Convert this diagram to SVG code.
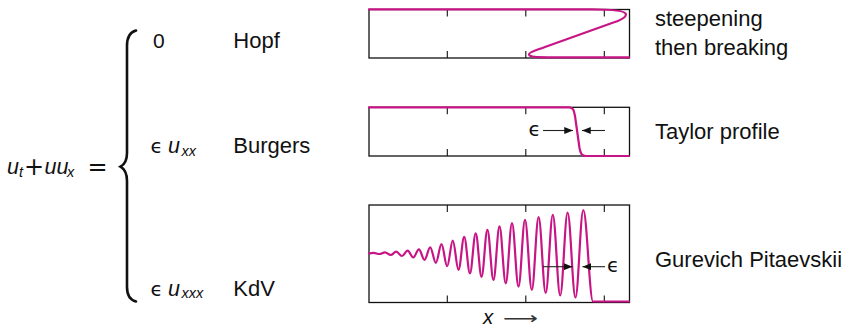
<svg xmlns="http://www.w3.org/2000/svg" width="852" height="329" viewBox="0 0 852 329">
<defs>
<style>
.txt{font-family:"Liberation Sans","DejaVu Sans",sans-serif;font-size:22px;fill:#111}
.mi{font-family:"Liberation Sans","DejaVu Sans",sans-serif;font-style:italic;font-size:21.5px;fill:#111}
.sub{font-family:"Liberation Sans","DejaVu Sans",sans-serif;font-style:italic;font-size:14.5px;fill:#111}
.eps{font-family:"DejaVu Sans",sans-serif;font-size:20px;fill:#111}
.op{font-family:"DejaVu Sans",sans-serif;font-size:24px;fill:#111}
.box{fill:none;stroke:#111;stroke-width:1.3}
.tick{fill:none;stroke:#111;stroke-width:1.1}
.curve{fill:none;stroke:#c71585;stroke-width:2.2;stroke-linejoin:round;stroke-linecap:round}
.arr{fill:none;stroke:#222;stroke-width:1.1}
.brace{fill:none;stroke:#111;stroke-width:2.6;stroke-linecap:round}
</style>
<marker id="ah" viewBox="0 0 10 8" refX="10" refY="4" markerWidth="9" markerHeight="7" markerUnits="userSpaceOnUse" orient="auto">
<path d="M0,0 L10,4 L0,8 Z" fill="#111"/>
</marker>
</defs>

<g id="equation">
<text class="mi" x="7" y="174">u</text>
<text class="sub" x="19" y="176.5">t</text>
<text class="op" x="34" y="175" text-anchor="middle">+</text>
<text class="mi" x="44.5" y="174">uu</text>
<text class="sub" x="67" y="176.5">x</text>
<text class="op" x="97.5" y="175" text-anchor="middle">=</text>
</g>

<g id="brace">
<path class="brace" d="M136,30.5 C130,32 127,37 127,46 L127,153 C127,160 124.5,164.5 120.5,166.7 C124.5,169 127,173.5 127,181 L127,287 C127,296 130,300 136,301.5"/>
</g>

<g id="row-hopf">
<text class="txt" x="153" y="48.3" style="font-size:21px">0</text>
<text class="txt" x="233.3" y="48.3">Hopf</text>
</g>

<g id="row-burgers">
<text class="eps" x="150.5" y="153.3">ϵ</text>
<text class="mi" x="168" y="153.3">u</text>
<text class="sub" x="181.5" y="155.5">xx</text>
<text class="txt" x="233.3" y="153.3">Burgers</text>
</g>

<g id="row-kdv">
<text class="eps" x="150.5" y="295.5">ϵ</text>
<text class="mi" x="168" y="295.5">u</text>
<text class="sub" x="181.5" y="297.7">xxx</text>
<text class="txt" x="233.3" y="295.5">KdV</text>
</g>

<g id="plot-hopf">
<rect class="box" x="369" y="9.5" width="260.5" height="48.5"/>
<path class="tick" d="M447.3,9.5 v7 M525.8,9.5 v7 M604.3,9.5 v7 M447.3,58 v-7 M525.8,58 v-7 M604.3,58 v-7"/>
<path class="curve" d="M369,9.3 L592,9.3 C612,9.3 626,10.5 626,14.5 C626,18 620,20.5 612,23 L545,47 C537,50 529,52 529,54.3 C529,56.5 534,57.3 548,57.3 L629,57.3"/>
</g>

<g id="plot-burgers">
<rect class="box" x="369" y="107.3" width="260.5" height="48.7"/>
<path class="tick" d="M447.3,107.3 v7 M525.8,107.3 v7 M604.3,107.3 v7 M447.3,156 v-7 M525.8,156 v-7 M604.3,156 v-7"/>
<path class="curve" d="M369,107.4 L569,107.4 C573,107.4 574,110 575,116 L579.5,148 C580.5,154 582,156 586,156 L629,156"/>
</g>

<g id="plot-kdv">
<rect class="box" x="369" y="205" width="260.5" height="97.5"/>
<path class="tick" d="M447.3,205 v7 M525.8,205 v7 M604.3,205 v7 M447.3,302.5 v-7 M525.8,302.5 v-7 M604.3,302.5 v-7"/>
<path class="curve" d="M369,253.3 C370.7,253.3 372,252.9 373.7,252.9 C375.75,252.9 377.3,254 379.35,254 C381.4,254 382.95,252.3 385,252.3 C387.05,252.3 388.6,255 390.65,255 C392.7,255 394.25,251.7 396.3,251.7 C398.35,251.7 399.9,256 401.95,256 C404,256 405.55,250.7 407.6,250.7 C409.65,250.7 411.2,257.5 413.25,257.5 C415.3,257.5 416.85,249.3 418.9,249.3 C420.95,249.3 422.5,259.8 424.55,259.8 C426.6,259.8 428.15,247.3 430.2,247.3 C432.25,247.3 433.8,262.8 435.85,262.8 C437.9,262.8 439.45,244.2 441.5,244.2 C443.55,244.2 445.1,266.2 447.15,266.2 C449.2,266.2 450.75,240.7 452.8,240.7 C454.87,240.7 456.43,269.8 458.5,269.8 C460.57,269.8 462.13,236.9 464.2,236.9 C466.29,236.9 467.86,273.3 469.95,273.3 C472.04,273.3 473.61,233.3 475.7,233.3 C477.82,233.3 479.43,276.8 481.55,276.8 C483.67,276.8 485.28,229.9 487.4,229.9 C489.6,229.9 491.25,280 493.45,280 C495.65,280 497.3,226.4 499.5,226.4 C501.77,226.4 503.48,283.3 505.75,283.3 C508.02,283.3 509.73,223 512,223 C514.36,223 516.14,286.7 518.5,286.7 C520.86,286.7 522.64,219.8 525,219.8 C527.47,219.8 529.33,290 531.8,290 C534.27,290 536.13,217.2 538.6,217.2 C541.18,217.2 543.12,293 545.7,293 C548.28,293 550.22,214.8 552.8,214.8 C555.49,214.8 557.51,295.5 560.2,295.5 C562.89,295.5 564.91,212.5 567.6,212.5 C570.45,212.5 572.6,297.5 575.45,297.5 C578.3,297.5 580.45,210 583.3,210 C586.8,210 589.5,301.5 593,301.5 L629,301.5"/>
</g>

<g id="connectors">
<line class="arr" x1="543" y1="130.5" x2="573" y2="130.5" marker-end="url(#ah)"/>
<line class="arr" x1="605" y1="130.5" x2="582" y2="130.5" marker-end="url(#ah)"/>
<line class="arr" x1="543" y1="266.7" x2="572.5" y2="266.7" marker-end="url(#ah)"/>
<line class="arr" x1="605" y1="266.7" x2="582.5" y2="266.7" marker-end="url(#ah)"/>
</g>

<g id="annotations">
<text class="eps" x="528.5" y="135.5">ϵ</text>
<text class="eps" x="607" y="272">ϵ</text>
<text class="mi" x="483" y="324" style="font-size:20.5px">x</text>
<text x="503" y="324" style="font-family:'DejaVu Sans',sans-serif;font-size:17px;fill:#333" textLength="35" lengthAdjust="spacingAndGlyphs">⟶</text>
</g>

<g id="labels">
<text class="txt" x="655" y="26">steepening</text>
<text class="txt" x="655" y="54.5">then breaking</text>
<text class="txt" x="655" y="139">Taylor profile</text>
<text class="txt" x="655" y="267">Gurevich Pitaevskii</text>
</g>
</svg>
